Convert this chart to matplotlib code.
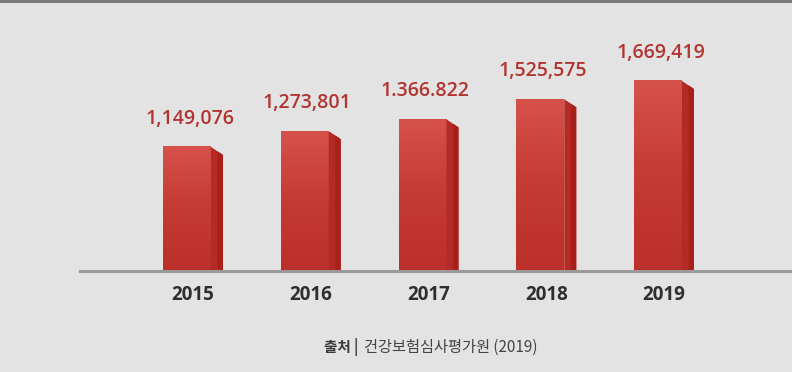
import matplotlib
matplotlib.use("Agg")
import matplotlib.pyplot as plt
import numpy as np
from matplotlib.patches import Polygon, Rectangle
from matplotlib.colors import LinearSegmentedColormap

years = ["2015", "2016", "2017", "2018", "2019"]
values = [1149076, 1273801, 1366822, 1525575, 1669419]
value_labels = ["1,149,076", "1,273,801", "1.366.822", "1,525,575", "1,669,419"]
source_bold = "출처 |"
source_rest = "건강보험심사평가원 (2019)"

W, H = 792, 372
DPI = 100
BG = "#e3e3e3"
fig = plt.figure(figsize=(W / DPI, H / DPI), dpi=DPI, facecolor=BG)

# axes placement in pixels
ax_left, ax_right = 80, 792
ax_base, ax_top = 271, 20
ax = fig.add_axes([ax_left / W, (H - ax_base) / H, (ax_right - ax_left) / W, (ax_base - ax_top) / H])
ax.set_facecolor(BG)

spacing_px = 117.75
first_center_px = 193
x = np.arange(len(years))
xmin = (ax_left - first_center_px) / spacing_px
xmax = (ax_right - first_center_px) / spacing_px
ymin = 171000
units_per_px = 7886
ymax = ymin + (ax_base - ax_top) * units_per_px
ax.set_xlim(xmin, xmax)
ax.set_ylim(ymin, ymax)

front_w = 48 / spacing_px
side_w = 12 / spacing_px
slant = 8 * units_per_px
total_w = front_w + side_w

front_cmap = LinearSegmentedColormap.from_list("f", ["#d5524a", "#c53a33", "#bd2f2a"])
grad = np.linspace(0, 1, 256).reshape(-1, 1)

for xi, v, lab in zip(x, values, value_labels):
    x0 = xi - total_w / 2
    x1 = x0 + front_w
    x2 = x1 + side_w
    ax.imshow(grad, cmap=front_cmap, aspect="auto", extent=(x0, x1, ymin, v), origin="upper", zorder=2)
    side = Polygon([(x1, ymin), (x1, v), (x2, v - slant), (x2, ymin)], closed=True,
                   facecolor="#b42a24", edgecolor="none", zorder=2)
    ax.add_patch(side)
    side2 = Polygon([(x1 + side_w * 0.55, ymin), (x1 + side_w * 0.55, v - slant * 0.55), (x2, v - slant), (x2, ymin)],
                    closed=True, facecolor="#a82019", edgecolor="none", zorder=2)
    ax.add_patch(side2)
    ax.annotate(lab, xy=(xi - 0.03, v), xytext=(0, 13), textcoords="offset points",
                ha="center", va="bottom", fontsize=14, color="#b23430",
                family="Open Sans", fontweight="semibold", zorder=3)

for s in ["top", "left", "right"]:
    ax.spines[s].set_visible(False)
ax.spines["bottom"].set_color("#9a9a9a")
ax.spines["bottom"].set_linewidth(2.2)
ax.spines["bottom"].set_zorder(4)
ax.set_yticks([])
ax.set_xticks(x)
ax.set_xticklabels(years, fontsize=13.5, fontweight="bold", color="#2e2e2e", family="Open Sans")
ax.tick_params(axis="x", length=0, pad=10)

# top border
fig.add_artist(Rectangle((0, 1 - 3 / H), 1, 3 / H, transform=fig.transFigure,
                         facecolor="#7b7b7b", edgecolor="none"))

# source text
fig.text(324 / W, 1 - 347 / H, source_bold, ha="left", va="center", fontsize=10.5,
         fontweight="bold", color="#3a3a3a", family=["Noto Sans CJK KR", "DejaVu Sans"])
fig.text(364 / W, 1 - 347 / H, source_rest, ha="left", va="center", fontsize=11,
         color="#444444", family=["Noto Sans CJK KR", "DejaVu Sans"])

fig.savefig("out.png", dpi=DPI, facecolor=BG)
